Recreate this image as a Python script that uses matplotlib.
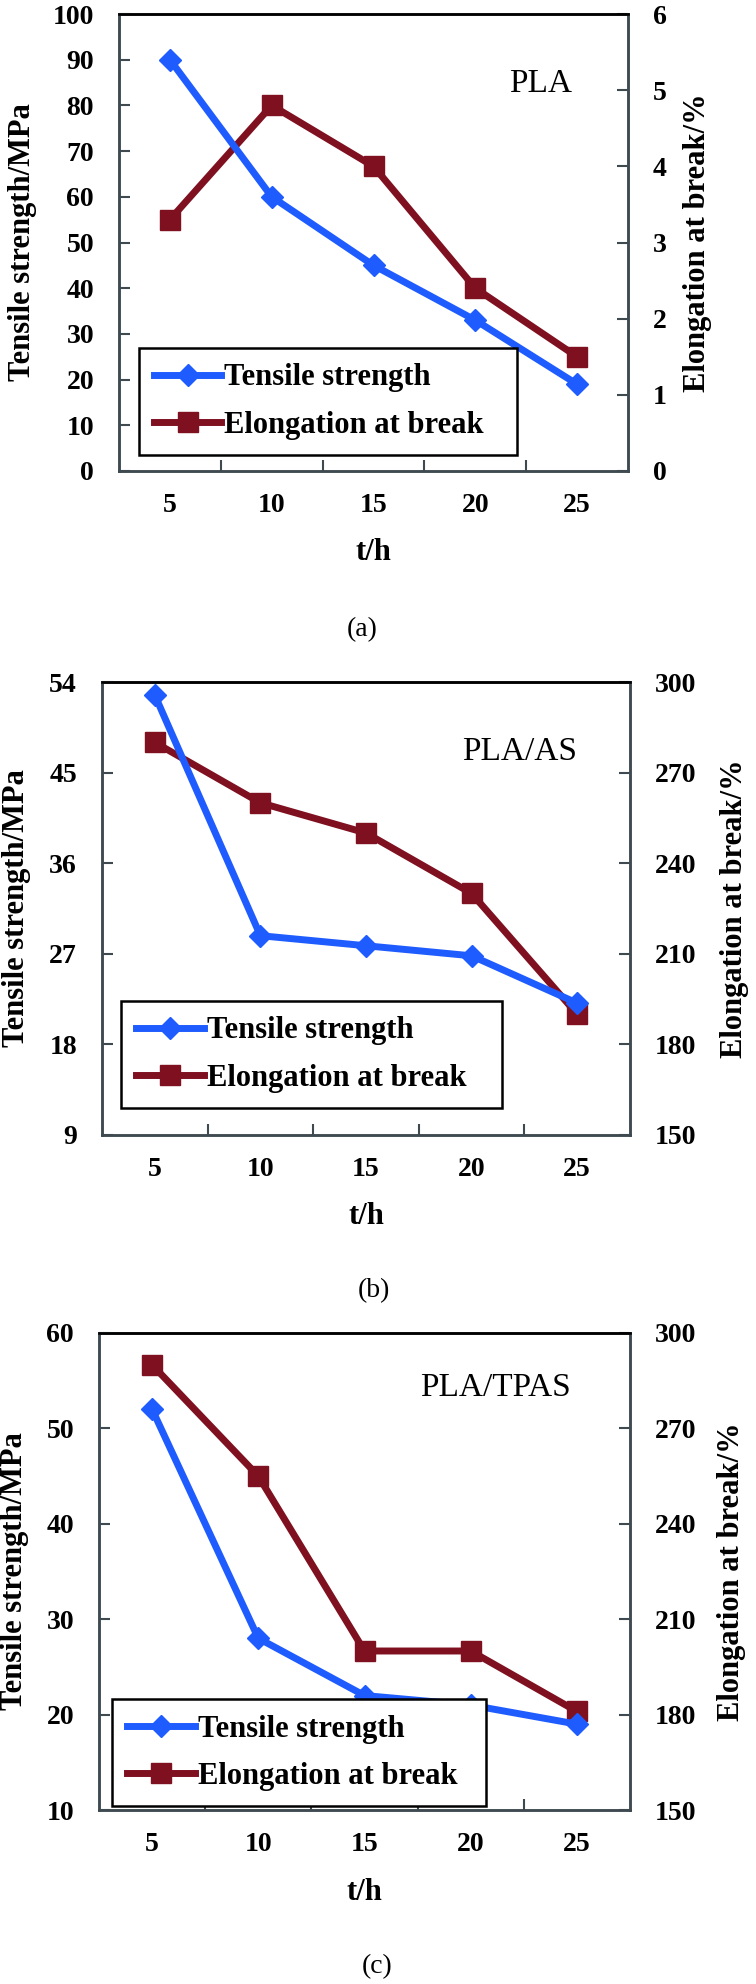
import numpy as np
import matplotlib
matplotlib.use("Agg")
import matplotlib.pyplot as plt
from matplotlib.lines import Line2D

plt.rcParams['font.family'] = ['Liberation Serif', 'DejaVu Serif']

# data
hours = [5, 10, 15, 20, 25]

a_tensile = [90, 60, 45, 33, 19]
a_elong = [3.3, 4.8, 4.0, 2.4, 1.5]

b_tensile = [52.7, 28.8, 27.8, 26.8, 22.1]
b_elong = [280, 260, 250, 230, 190]

c_tensile = [52, 28, 22, 21, 19]
c_elong = [290, 255, 200, 200, 181]

panel_names = ["PLA", "PLA/AS", "PLA/TPAS"]
captions = ["(a)", "(b)", "(c)"]

BLUE = '#1f5cff'
RED = '#7f1020'
SPINE = '#3e4a50'

W, H = 756, 1984
fig = plt.figure(figsize=(W / 100, H / 100), dpi=100)


def px_axes(left, top, right, bottom):
    return fig.add_axes([left / W, 1 - bottom / H, (right - left) / W, (bottom - top) / H])


def panel(box, tens, elong, ylim, yticks, y2lim, y2ticks, name, name_xy,
          leg_box, ylab_x, y2lab_x, cap_xy, caption):
    left, top, right, bottom = box
    ax = px_axes(left, top, right, bottom)
    ax2 = ax.twinx()
    ax.set_zorder(ax2.get_zorder() + 1)
    ax.patch.set_visible(False)

    x = np.arange(1, len(hours) + 1)
    ax2.plot(x, elong, color=RED, lw=5, marker='s', ms=15, zorder=3)
    ax.plot(x, tens, color=BLUE, lw=5, marker='D', ms=11, zorder=3)

    ax.set_xlim(0.5, len(hours) + 0.5)
    ax.set_ylim(*ylim)
    ax.set_yticks(yticks)
    ax2.set_ylim(*y2lim)
    ax2.set_yticks(y2ticks)

    ax.set_xticks(x)
    ax.set_xticklabels([str(h) for h in hours])
    ax.set_xticks(x[:-1] + 0.5, minor=True)
    ax.tick_params(axis='x', which='major', length=0, pad=16, labelsize=20)
    ax.tick_params(axis='x', which='minor', direction='in', length=8, width=1.5,
                   color=SPINE)
    ax.tick_params(axis='y', direction='in', length=8, width=1.5, color=SPINE,
                   pad=18, labelsize=20)
    ax2.tick_params(axis='y', direction='in', length=8, width=1.5, color=SPINE,
                    pad=18, labelsize=20)
    for lab in ax.get_xticklabels() + ax.get_yticklabels() + ax2.get_yticklabels():
        lab.set_fontweight('bold')

    for a in (ax, ax2):
        for s in a.spines.values():
            s.set_linewidth(1.8)
            s.set_color(SPINE)
        a.spines['top'].set_color('black')

    h = bottom - top
    ax.set_xlabel("t/h", fontsize=22, fontweight='bold')
    ax.xaxis.set_label_coords(0.5, -82 / h)
    ax.xaxis.label.set_va('center')
    ax.set_ylabel("Tensile strength/MPa", fontsize=22, fontweight='bold')
    ax.yaxis.set_label_coords(ylab_x, 0.5)
    ax.yaxis.label.set_va('center')
    ax2.set_ylabel("Elongation at break/%", fontsize=22, fontweight='bold',
                   rotation=90)
    ax2.yaxis.set_label_coords(y2lab_x, 0.5)
    ax2.yaxis.label.set_va('center')

    ax.text(name_xy[0], name_xy[1], name, transform=ax.transAxes, fontsize=24,
            ha='center', va='center')

    handles = [
        Line2D([], [], color=BLUE, lw=5, marker='D', ms=11),
        Line2D([], [], color=RED, lw=5, marker='s', ms=15),
    ]
    lx0, ly0, lw_, lh_ = leg_box
    leg = ax.legend(handles, ["Tensile strength", "Elongation at break"],
                    loc='lower left', bbox_to_anchor=(lx0, ly0, lw_, lh_),
                    mode='expand', borderaxespad=0, fancybox=False,
                    edgecolor='black', framealpha=1,
                    prop={'weight': 'bold', 'size': 22},
                    handlelength=2.2, handletextpad=0.1, labelspacing=0.6,
                    borderpad=0.5)
    leg.get_frame().set_linewidth(1.8)

    fig.text(cap_xy[0] / W, 1 - cap_xy[1] / H, caption, fontsize=20,
             ha='center', va='center')
    return ax, ax2


# (a)
panel((119, 14, 628, 471), a_tensile, a_elong,
      (0, 100), np.arange(0, 101, 10), (0, 6), np.arange(0, 7, 1),
      panel_names[0], (0.829, 0.847),
      (0.039, 0.035, 0.743, 0.217), -0.19, 1.136, (362, 630), captions[0])

# (b)
panel((102, 682, 630, 1135), b_tensile, b_elong,
      (9, 54), np.arange(9, 55, 9), (150, 300), np.arange(150, 301, 30),
      panel_names[1], (0.79, 0.845),
      (0.036, 0.06, 0.722, 0.205), -0.161, 1.197, (374, 1291), captions[1])

# (c)
panel((99, 1333, 630, 1810), c_tensile, c_elong,
      (10, 60), np.arange(10, 61, 10), (150, 300), np.arange(150, 301, 30),
      panel_names[2], (0.746, 0.885),
      (0.0245, 0.008, 0.704, 0.208), -0.16, 1.192, (377, 1967), captions[2])

fig.savefig("out.png", dpi=100, facecolor='white')
